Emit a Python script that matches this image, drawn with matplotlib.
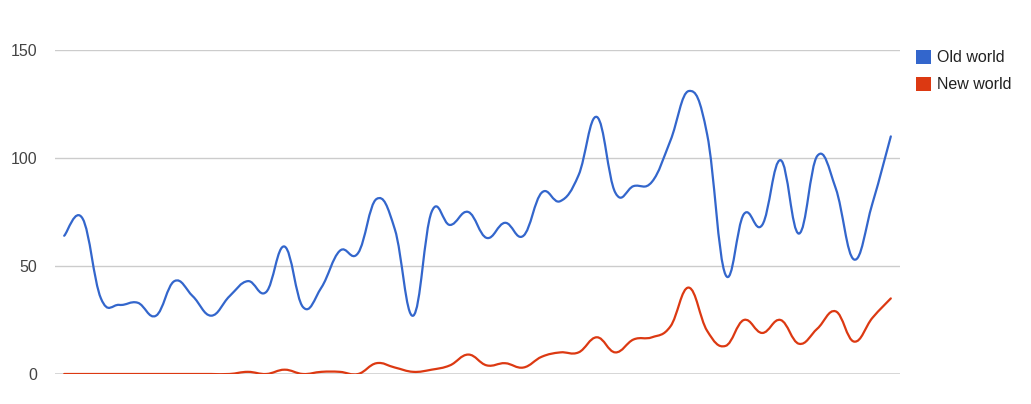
import numpy as np
import matplotlib.pyplot as plt
from matplotlib.path import Path
from matplotlib.patches import PathPatch, Patch

plt.rcParams['font.family'] = ['Liberation Sans', 'DejaVu Sans']

# Werte (46 Punkte, diskrete x-Achse)
old_world = [64, 72, 35, 32, 33, 27, 43, 36, 27, 36, 43, 38, 59, 31, 40, 57,
             56, 81, 67, 27, 75, 69, 75, 63, 70, 64, 84, 80, 92, 119, 84, 87,
             89, 108, 131, 111, 46, 74, 69, 99, 65, 101, 86, 53, 79, 110]
new_world = [0, 0, 0, 0, 0, 0, 0, 0, 0, 0, 1, 0, 2, 0, 1, 1,
             0, 5, 3, 1, 2, 4, 9, 4, 5, 3, 8, 10, 10, 17, 10, 16,
             17, 22, 40, 20, 13, 25, 19, 25, 14, 21, 29, 15, 26, 35]
series = [('Old world', old_world, '#3366cc'), ('New world', new_world, '#dc3912')]


# Glatte Kurve durch die Punkte (wie curveType 'function')
def smooth_path(x, y, t=0.2):
    pts = np.column_stack([x, y]).astype(float)
    verts = [pts[0]]
    codes = [Path.MOVETO]
    n = len(pts)
    for i in range(n - 1):
        p0 = pts[max(i - 1, 0)]
        p1 = pts[i]
        p2 = pts[i + 1]
        p3 = pts[min(i + 2, n - 1)]
        c1 = p1 + (p2 - p0) * t
        c2 = p2 - (p3 - p1) * t
        verts += [c1, c2, p2]
        codes += [Path.CURVE4] * 3
    return Path(verts, codes)


fig = plt.figure(figsize=(10.31, 4.04), dpi=100)
ax = fig.add_axes([55 / 1031, 30 / 404, 845 / 1031, 324 / 404])

x = np.arange(len(old_world))
for name, vals, color in series:
    ax.add_patch(PathPatch(smooth_path(x, vals), facecolor='none', edgecolor=color,
                           lw=1.6, capstyle='round', joinstyle='round', zorder=3))

ax.set_xlim(-0.5, len(x) - 0.5)
ax.set_ylim(0, 150)
ax.set_yticks([0, 50, 100, 150])
ax.set_xticks([])
for v in [50, 100, 150]:
    ax.axhline(v, color='#cccccc', lw=1, zorder=1)
ax.axhline(0, color='#333333', lw=1, zorder=2)
for s in ax.spines.values():
    s.set_visible(False)
ax.tick_params(axis='y', length=0, pad=13, labelsize=11.5, labelcolor='#444444')

handles = [Patch(facecolor=c, edgecolor='none', label=n) for n, _, c in series]
fig.legend(handles=handles, loc='upper left', bbox_to_anchor=(916 / 1031, 1 - 50 / 404),
           frameon=False, handlelength=0.95, handleheight=0.95, handletextpad=0.38,
           labelspacing=0.72, fontsize=11.5, borderaxespad=0, borderpad=0,
           labelcolor='#222222')

plt.savefig('out.png', dpi=100)
